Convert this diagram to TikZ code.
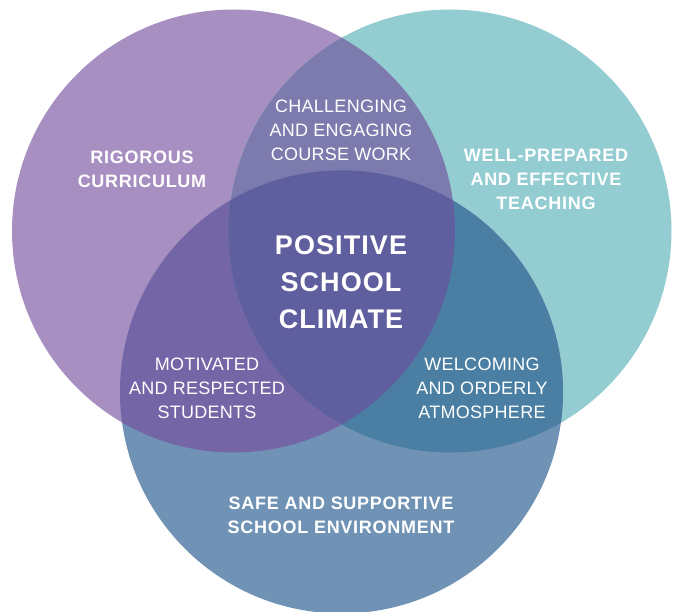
\documentclass[tikz,border=0pt]{standalone}
\usepackage{fontspec}
\setmainfont{Liberation Sans}
\usetikzlibrary{positioning}
\definecolor{rigor}{HTML}{A78FC1}
\definecolor{teach}{HTML}{93CDD2}
\definecolor{safe}{HTML}{7093B5}
\definecolor{rigorteach}{HTML}{7D7BAE}
\definecolor{rigorsafe}{HTML}{7465A6}
\definecolor{teachsafe}{HTML}{4A7FA3}
\definecolor{climate}{HTML}{5F5E9E}
\newcommand{\rad}{221.5}
\tikzstyle{outer}=[font=\bfseries\fontsize{18}{24}\selectfont\addfontfeature{LetterSpace=4}, text=white, align=center, inner sep=0pt]
\tikzstyle{inner}=[font=\fontsize{18}{24}\selectfont\addfontfeature{LetterSpace=1.5}, text=white, align=center, inner sep=0pt]
\tikzstyle{core}=[font=\bfseries\fontsize{27}{37}\selectfont\addfontfeature{LetterSpace=4}, text=white, align=center, inner sep=0pt]
\begin{document}
\begin{tikzpicture}[x=1pt, y=-1pt]
      \useasboundingbox (0,0) rectangle (678,612);
      \coordinate (r) at (233.5,231);
      \coordinate (t) at (450,231);
      \coordinate (s) at (341.5,392);
      % circles
      \fill[rigor] (r) circle (\rad);
      \fill[teach] (t) circle (\rad);
      \fill[safe] (s) circle (\rad);
      % overlaps
      \begin{scope}
        \clip (r) circle (\rad);
        \fill[rigorteach] (t) circle (\rad);
        \fill[rigorsafe] (s) circle (\rad);
      \end{scope}
      \begin{scope}
        \clip (t) circle (\rad);
        \fill[teachsafe] (s) circle (\rad);
        \clip (s) circle (\rad);
        \fill[climate] (r) circle (\rad);
      \end{scope}
      % labels
      \node[outer] (rigorous) at (142,169) {RIGOROUS\\CURRICULUM};
      \node[outer] (teaching) at (546,179) {WELL-PREPARED\\AND EFFECTIVE\\TEACHING};
      \node[outer] (safety) at (341,515) {SAFE AND SUPPORTIVE\\SCHOOL ENVIRONMENT};
      \node[inner] (course) at (341,130) {CHALLENGING\\AND ENGAGING\\COURSE WORK};
      \node[inner] (students) at (207,388) {MOTIVATED\\AND RESPECTED\\STUDENTS};
      \node[inner] (atmos) at (482,388) {WELCOMING\\AND ORDERLY\\ATMOSPHERE};
      \node[core] (center) at (341,282) {POSITIVE\\SCHOOL\\CLIMATE};
\end{tikzpicture}
\end{document}
